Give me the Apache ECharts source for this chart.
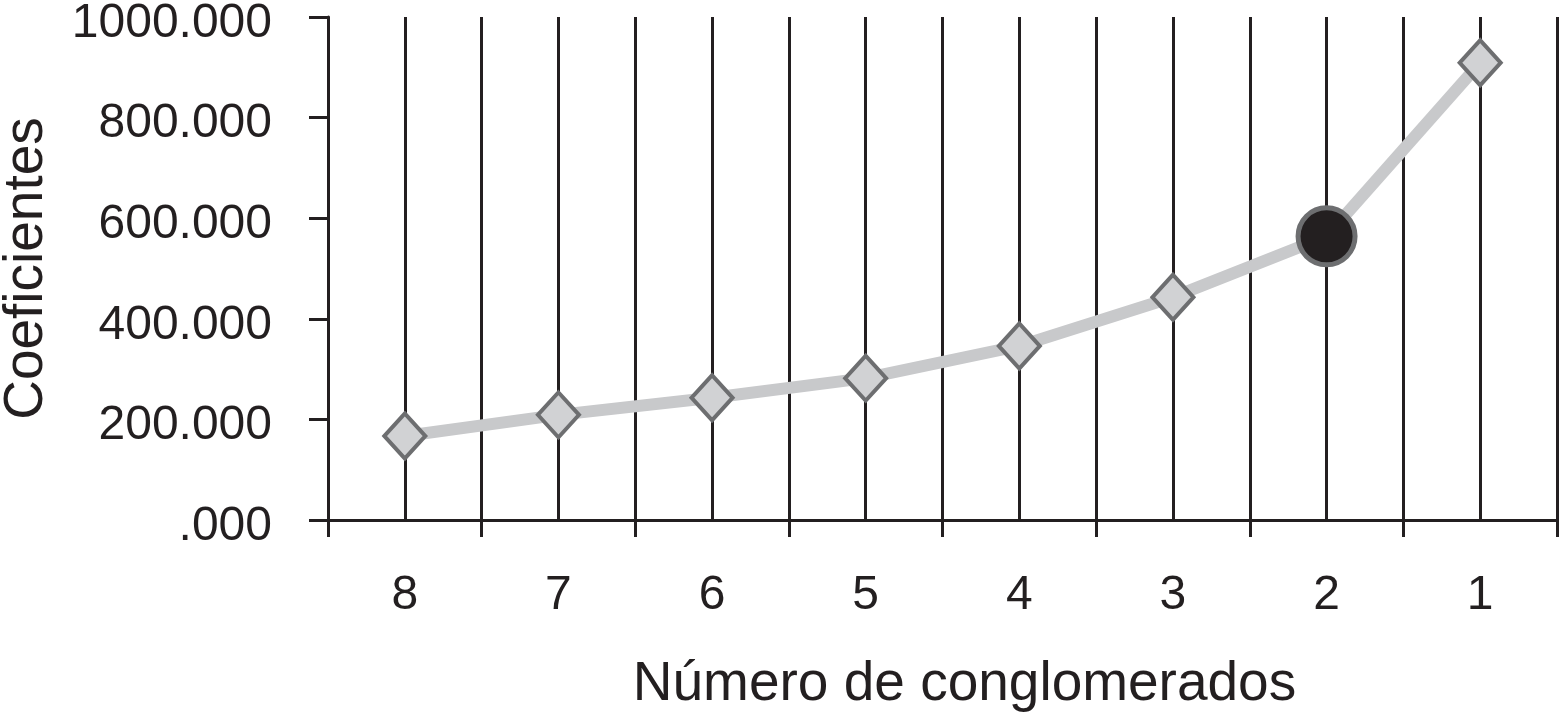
<!DOCTYPE html>
<html>
<head>
<meta charset="utf-8">
<script src="https://cdn.jsdelivr.net/npm/echarts@6/dist/echarts.min.js"></script>
<style>
html,body{margin:0;padding:0;background:#fff;}
#chart{width:1559px;height:716px;}
</style>
</head>
<body>
<div id="chart"></div>
<script>
const categories = ['8', '7', '6', '5', '4', '3', '2', '1'];
const coeficientes = [167, 209, 243, 282, 346, 443, 564, 909];
const highlightIndex = 6;
const yTicks = [0, 200, 400, 600, 800, 1000];

const ink = '#231f20';
const font = '"Liberation Sans", Arial, Helvetica, sans-serif';

const seriesData = coeficientes.map((v, i) => {
  if (i === highlightIndex) {
    return {
      value: v,
      symbol: 'circle',
      symbolSize: 57,
      itemStyle: { color: ink, borderColor: '#6d6e70', borderWidth: 5 }
    };
  }
  return v;
});

const chart = echarts.init(document.getElementById('chart'));
chart.setOption({
  animation: false,
  backgroundColor: '#ffffff',
  grid: { left: 328, right: 2, top: 17, bottom: 196, containLabel: false, outerBoundsMode: 'none' },
  xAxis: [
    {
      type: 'category',
      data: categories,
      position: 'bottom',
      boundaryGap: true,
      name: 'Número de conglomerados',
      nameLocation: 'middle',
      nameGap: 137,
      nameTextStyle: { fontFamily: font, fontSize: 55, color: ink, padding: [0, 0, 0, 44] },
      axisLine: { show: true, lineStyle: { color: ink, width: 3 } },
      axisTick: { show: true, interval: 0, length: 17, lineStyle: { color: ink, width: 3 } },
      axisLabel: { interval: 0, margin: 52, fontFamily: font, fontSize: 48, color: ink },
      splitLine: { show: true, interval: 0, lineStyle: { color: ink, width: 3 } }
    },
    {
      type: 'category',
      data: categories,
      position: 'top',
      boundaryGap: true,
      axisLine: { show: false },
      axisTick: { show: true, inside: true, alignWithLabel: true, interval: 0, length: 503, lineStyle: { color: ink, width: 3 } },
      axisLabel: { show: false },
      splitLine: { show: false }
    }
  ],
  yAxis: {
    type: 'value',
    min: 0,
    max: 1000,
    interval: 200,
    name: 'Coeficientes',
    nameLocation: 'middle',
    nameGap: 274,
    nameTextStyle: { fontFamily: font, fontSize: 55, color: ink },
    axisLine: { show: true, lineStyle: { color: ink, width: 3 } },
    axisTick: { show: true, length: 19, lineStyle: { color: ink, width: 3 } },
    axisLabel: {
      margin: 56,
      fontFamily: font,
      fontSize: 48,
      color: ink,
      formatter: v => '{a|' + (v === 0 ? '.000' : v + '.000') + '}',
      rich: {
        a: { fontFamily: font, fontSize: 48, color: ink, padding: [13, 0, 0, 0] }
      }
    },
    splitLine: { show: false }
  },
  series: [
    {
      type: 'line',
      xAxisIndex: 0,
      data: seriesData,
      symbol: 'diamond',
      symbolSize: [41, 45],
      showAllSymbol: true,
      z: 5,
      lineStyle: { color: '#c8c9cb', width: 12 },
      itemStyle: { color: '#d1d2d4', borderColor: '#6d6e70', borderWidth: 4 }
    }
  ]
});
</script>
</body>
</html>
